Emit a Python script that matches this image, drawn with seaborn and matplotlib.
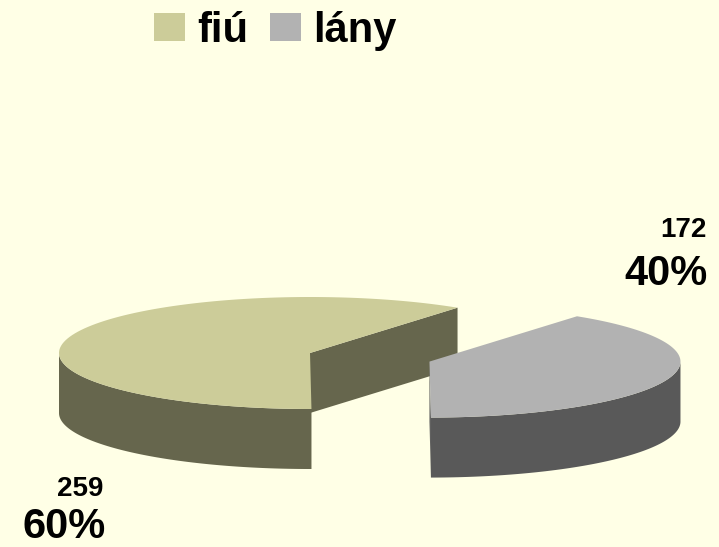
import numpy as np
import matplotlib
matplotlib.use('Agg')
import matplotlib.pyplot as plt
import matplotlib.colors as mcolors
from matplotlib.patches import Polygon, Patch
import seaborn as sns

# adatok
labels = ['fiú', 'lány']
counts = [259, 172]
top_colors = ['#CCCC99', '#B2B2B2']

sns.set_theme(style='white')
plt.rcParams['font.family'] = ['Liberation Sans', 'DejaVu Sans']
BG = '#FFFFE6'

# 3D pie geometry (pixel units)
CX, CY = 310, 353
RX, RY, DEPTH = 251, 56, 60
START = 54
explode = [0.0, 0.5]
# label anchors: (x_count, y_count, x_pct, y_pct, ha)
label_pos = [(80, 496, 64, 538, 'center'), (707, 237, 708, 285, 'right')]

fig = plt.figure(figsize=(7.19, 5.47), dpi=100, facecolor=BG)
ax = fig.add_axes([0, 0, 1, 1])
ax.set_facecolor(BG)
ax.set_xlim(0, 719)
ax.set_ylim(547, 0)
ax.axis('off')


def ring(cx, cy, a_from, a_to, dz=0, n=120):
    t = np.radians(np.linspace(a_from, a_to, n))
    return np.column_stack([cx + RX * np.cos(t), cy - RY * np.sin(t) + dz])


total = sum(counts)
a0 = START
for lab, c, col, e, lp in zip(labels, counts, top_colors, explode, label_pos):
    a1 = a0 + 360 * c / total
    mid = np.radians((a0 + a1) / 2)
    cx = CX + e * RX * np.cos(mid)
    cy = CY - e * RY * np.sin(mid)
    side = tuple(np.array(mcolors.to_rgb(col)) * 0.5)

    # cut faces (only the ones turned toward the viewer)
    for edge, normal in ((a0, a0 - 90), (a1, a1 + 90)):
        if np.sin(np.radians(normal)) < -1e-6:
            p = ring(cx, cy, edge, edge, n=1)[0]
            quad = [(cx, cy), tuple(p), (p[0], p[1] + DEPTH), (cx, cy + DEPTH)]
            ax.add_patch(Polygon(quad, closed=True, facecolor=side, edgecolor='none'))

    # outer wall, visible front half
    for k in (0, 1):
        lo, hi = max(a0, 180 + 360 * k), min(a1, 360 + 360 * k)
        if hi > lo:
            upper = ring(cx, cy, lo, hi)
            lower = ring(cx, cy, hi, lo, dz=DEPTH)
            ax.add_patch(Polygon(np.vstack([upper, lower]), closed=True,
                                 facecolor=side, edgecolor='none'))

    # top face
    arc = ring(cx, cy, a0, a1)
    ax.add_patch(Polygon(np.vstack([[cx, cy], arc]), closed=True,
                         facecolor=col, edgecolor='none'))

    xc, yc, xp, yp, ha = lp
    ax.text(xc, yc, f'{c}', fontsize=20, fontweight='bold', color='black',
            ha=ha, va='baseline')
    ax.text(xp, yp, f'{round(100 * c / total)}%', fontsize=30, fontweight='bold',
            color='black', ha=ha, va='baseline')
    a0 = a1

handles = [Patch(facecolor=col, edgecolor='none', label=lab)
           for lab, col in zip(labels, top_colors)]
leg = ax.legend(handles=handles, loc='upper left',
                bbox_to_anchor=(154 / 719, 1 - 11 / 547),
                ncol=2, frameon=False, prop={'size': 30, 'weight': 'bold'},
                handlelength=0.75, handleheight=0.65, handletextpad=0.3,
                columnspacing=0.5, borderpad=0, borderaxespad=0)
for t in leg.get_texts():
    t.set_color('black')

fig.savefig('out.png', dpi=100, facecolor=BG)
